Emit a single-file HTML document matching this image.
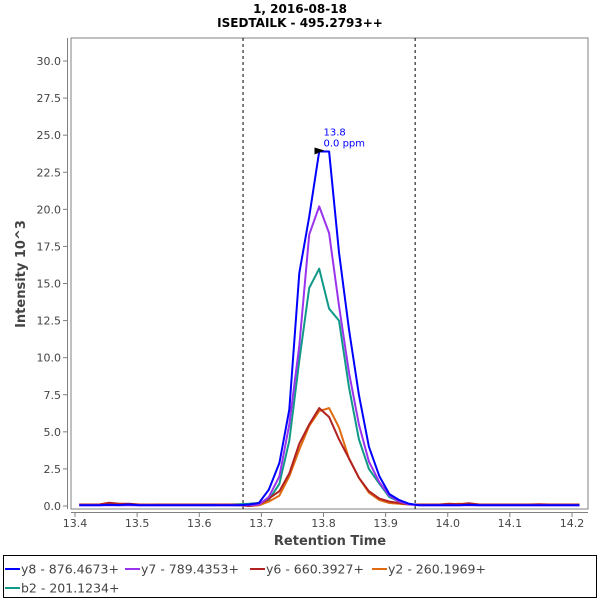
<!DOCTYPE html>
<html><head><meta charset="utf-8"><style>
body{margin:0;background:#fff;width:600px;height:600px;overflow:hidden;font-family:"Liberation Sans","DejaVu Sans",sans-serif}
svg text{font-family:"DejaVu Sans","Liberation Sans",sans-serif}
</style></head><body>
<svg id="chart" width="600" height="600">
<rect width="600" height="600" fill="#fff"/>
<text x="300" y="13" text-anchor="middle" font-size="12" font-weight="bold" fill="#000">1, 2016-08-18</text>
<text x="300" y="27" text-anchor="middle" font-size="12" font-weight="bold" fill="#000">ISEDTAILK - 495.2793++</text>
<rect x="71" y="38" width="517" height="471" fill="#fff" stroke="#808080" stroke-width="1"/>
<line x1="67.5" y1="38" x2="67.5" y2="509" stroke="#808080"/>
<line x1="71" y1="512.5" x2="588" y2="512.5" stroke="#808080"/>
<g id="yticks"></g><g id="xticks"></g><g id="marks"></g><g id="series"></g>
<text transform="translate(25,274) rotate(-90)" text-anchor="middle" font-size="13" font-weight="bold" fill="#444">Intensity 10^3</text>
<text x="330" y="545" text-anchor="middle" font-size="13" font-weight="bold" fill="#444">Retention Time</text>
<rect x="3.5" y="555.5" width="593" height="42" fill="#fff" stroke="#000"/>
<g id="legend"></g>
</svg>
<script>
const times=[13.407,13.423,13.439,13.455,13.471,13.487,13.503,13.520,13.536,13.552,13.568,13.584,13.600,13.616,13.632,13.648,13.664,13.680,13.696,13.712,13.729,13.745,13.761,13.777,13.793,13.809,13.825,13.841,13.857,13.873,13.890,13.906,13.922,13.938,13.954,13.970,13.986,14.002,14.018,14.034,14.051,14.067,14.083,14.099,14.115,14.131,14.147,14.163,14.179,14.195,14.212];
const y8=[0.05,0.05,0.05,0.08,0.06,0.1,0.05,0.05,0.05,0.05,0.05,0.05,0.05,0.06,0.05,0.05,0.05,0.1,0.2,1.1,2.9,6.5,15.7,19.5,23.9,23.9,17.1,11.9,7.5,4.0,2.0,0.8,0.4,0.15,0.05,0.05,0.05,0.05,0.05,0.08,0.05,0.05,0.05,0.05,0.05,0.05,0.05,0.05,0.05,0.05,0.05];
const y7=[0.05,0.05,0.05,0.05,0.05,0.05,0.05,0.05,0.05,0.05,0.05,0.05,0.05,0.05,0.05,0.05,0.05,0.05,0.1,0.6,2.0,5.5,10.8,18.3,20.2,18.4,13.5,9.0,5.5,3.0,1.6,0.7,0.3,0.1,0.05,0.05,0.05,0.05,0.05,0.05,0.05,0.05,0.05,0.05,0.05,0.05,0.05,0.05,0.05,0.05,0.05];
const y6=[0.1,0.1,0.1,0.22,0.15,0.15,0.1,0.08,0.1,0.1,0.1,0.1,0.1,0.1,0.1,0.1,0.08,0.0,0.1,0.5,1.0,2.2,4.2,5.5,6.6,6.0,4.5,3.2,1.9,1.0,0.5,0.3,0.2,0.1,0.1,0.1,0.1,0.15,0.12,0.18,0.1,0.1,0.1,0.1,0.1,0.1,0.12,0.1,0.1,0.1,0.1];
const y2=[0.1,0.1,0.1,0.15,0.1,0.1,0.1,0.1,0.1,0.1,0.1,0.1,0.1,0.1,0.1,0.1,0.05,0.0,0.05,0.3,0.7,2.0,3.8,5.4,6.4,6.6,5.3,3.2,1.9,0.9,0.4,0.2,0.15,0.1,0.1,0.1,0.1,0.1,0.15,0.1,0.1,0.1,0.1,0.1,0.1,0.1,0.1,0.1,0.1,0.1,0.1];
const b2=[0.1,0.1,0.1,0.1,0.1,0.1,0.1,0.1,0.1,0.1,0.1,0.1,0.1,0.1,0.1,0.1,0.12,0.15,0.2,0.4,1.5,4.4,9.8,14.7,16.0,13.3,12.5,8.0,4.5,2.5,1.5,0.6,0.3,0.1,0.1,0.1,0.1,0.1,0.1,0.1,0.1,0.1,0.1,0.1,0.1,0.1,0.1,0.1,0.1,0.1,0.1];
const seriesNames=["y8 - 876.4673+","y7 - 789.4353+","y6 - 660.3927+","y2 - 260.1969+","b2 - 201.1234+"];
const seriesColors=["#0000ff","#9933ee","#b22222","#e06a10","#119988"];
const yTicks=[0,2.5,5,7.5,10,12.5,15,17.5,20,22.5,25,27.5,30];
const xTicks=[13.4,13.5,13.6,13.7,13.8,13.9,14.0,14.1,14.2];
const boundaries=[13.6705,13.9475];
const apex=[13.8,23.9];
const NS="http://www.w3.org/2000/svg";
const X=t=>75+(t-13.4)*621.25;
const Y=v=>506-v*14.833;
function mk(tag,attrs,parent){const e=document.createElementNS(NS,tag);for(const k in attrs)e.setAttribute(k,attrs[k]);parent.appendChild(e);return e;}
const yt=document.getElementById('yticks');
yTicks.forEach(v=>{const y=Y(v);
const l=mk('line',{x1:63,x2:67,y1:y,y2:y,stroke:'#808080'},yt);


const t=mk('text',{x:61,y:y+4,'text-anchor':'end','font-size':11,fill:'#444'},yt);t.textContent=v.toFixed(1);

});
const xt=document.getElementById('xticks');
xTicks.forEach(v=>{const x=X(v);
const l=mk('line',{x1:x,x2:x,y1:513,y2:517,stroke:'#808080'},xt);


const t=mk('text',{x:x,y:527,'text-anchor':'middle','font-size':11,fill:'#444'},xt);t.textContent=v.toFixed(1);

});
const mg=document.getElementById('marks');
boundaries.forEach(b=>{const l=mk('line',{x1:X(b),x2:X(b),y1:38,y2:509,stroke:'#000','stroke-dasharray':'3,3','stroke-width':1},mg);

});
const sg=document.getElementById('series');
const data=[y8,y7,y6,y2,b2];
const order=[4,3,2,1,0];
order.forEach(i=>{const pts=times.map((t,j)=>X(t).toFixed(1)+','+Y(data[i][j]).toFixed(1)).join(' ');
const p=mk('polyline',{points:pts,fill:'none',stroke:seriesColors[i],'stroke-width':2,'stroke-linejoin':'round'},sg);

});
const ax=X(apex[0]),ay=Y(apex[1]);
const tri=mk('polygon',{points:`${ax-9},${ay-4} ${ax+1},${ay-1} ${ax-9},${ay+3}`,fill:'#000'},sg);


const a1=mk('text',{x:ax,y:ay-16,'font-size':10,fill:'#0000ff'},sg);a1.textContent=apex[0].toFixed(1);


const a2=mk('text',{x:ax,y:ay-5,'font-size':10,fill:'#0000ff'},sg);a2.textContent='0.0 ppm';


const lg=document.getElementById('legend');
const lpos=[[5,569],[125,569],[250,569],[372,569],[5,588]];
seriesNames.forEach((n,i)=>{const [x,y]=lpos[i];
const l=mk('line',{x1:x,x2:x+15,y1:y,y2:y,stroke:seriesColors[i],'stroke-width':2},lg);


const t=mk('text',{x:x+16,y:y+4.5,'font-size':12.5,fill:'#444'},lg);t.textContent=n;

});
</script>
</body></html>
